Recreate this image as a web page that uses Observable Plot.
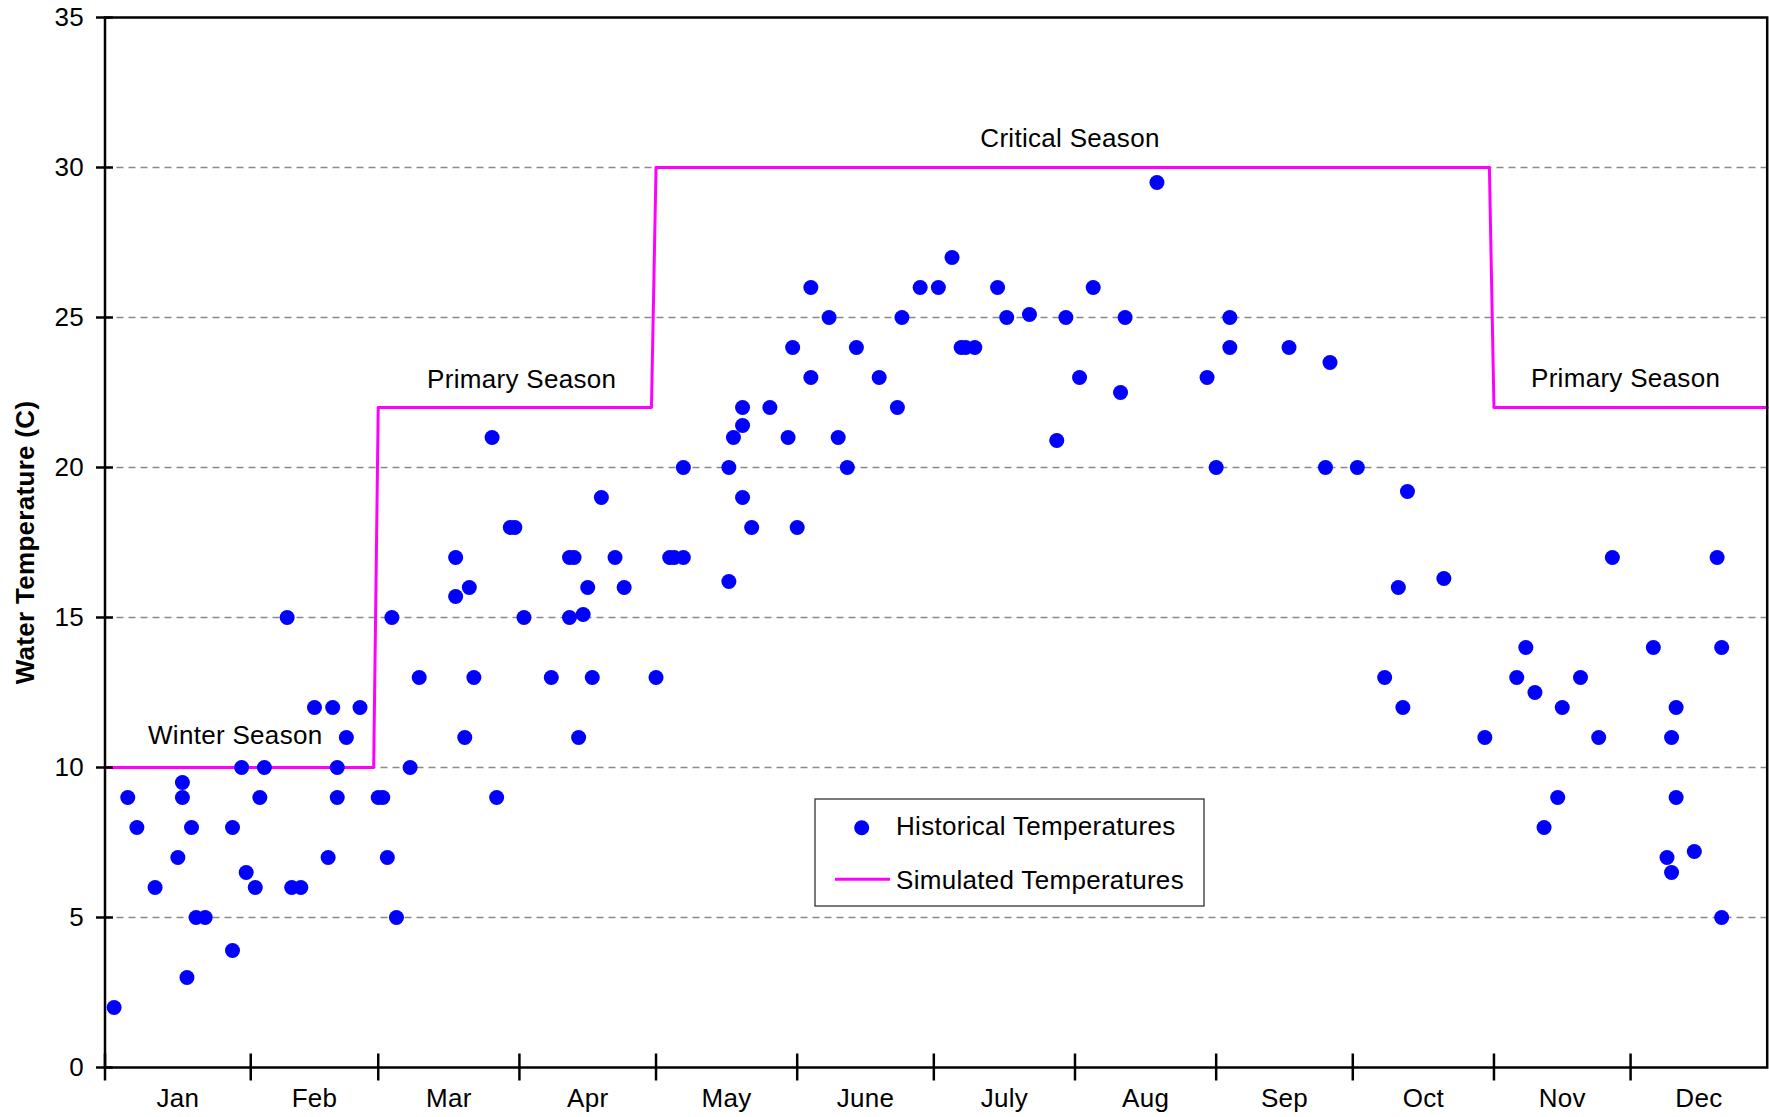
<!DOCTYPE html>
<html>
<head>
<meta charset="utf-8">
<script src="https://cdn.jsdelivr.net/npm/d3@7"></script>
<script src="https://cdn.jsdelivr.net/npm/@observablehq/plot@0.6"></script>
<style>
  html, body { margin: 0; padding: 0; background: #fff; }
  #wrap { position: relative; width: 1769px; height: 1117px; font-family: "Liberation Sans", Arial, sans-serif; }
  #legend { position: absolute; left: 814px; top: 798px; letter-spacing: 0.3px; }
</style>
</head>
<body>
<div id="wrap"></div>
<script>
// ---- Data (day of year, water temperature in C) ----
const histDays = [2,5,7,11,16,17,17,18,19,20,22,28,28,30,31,33,34,35,40,41,43,46,49,50,51,51,53,56,
  60,61,62,63,64,67,69,77,77,79,80,81,85,86,89,90,92,98,102,103,102,104,105,106,107,109,112,114,
  121,124,125,127,127,137,137,138,140,140,140,142,146,150,151,152,155,155,159,161,163,165,170,174,175,
  179,183,186,188,189,191,196,198,203,209,211,214,217,223,224,231,242,244,247,247,260,268,269,275,
  281,284,285,286,294,303,310,312,314,316,319,320,324,328,331,340,343,344,344,345,345,349,354,355,355];
const histTemps = [2,9,8,6,7,9.5,9,3,8,5,5,8,3.9,10,6.5,6,9,10,15,6,6,12,7,12,10,9,11,12,
  9,9,7,15,5,10,13,17,15.7,11,16,13,21,9,18,18,15,13,17,17,15,11,15.1,16,13,19,17,16,
  13,17,17,17,20,20,16.2,21,21.4,22,19,18,22,21,24,18,26,23,25,21,20,24,23,22,25,
  26,26,27,24,24,24,26,25,25.1,20.9,25,23,26,22.5,25,29.5,23,20,25,24,24,20,23.5,20,
  13,16,12,19.2,16.3,11,13,14,12.5,8,9,12,13,11,17,14,7,6.5,11,9,12,7.2,17,14,5];

const simDays  = [0, 59, 60, 120, 121, 304, 305, 365];
const simTemps = [10, 10, 22, 22, 30, 30, 22, 22];

const seasonNames = ["Winter Season", "Primary Season", "Critical Season", "Primary Season"];
const seasonDays  = [28.6, 91.5, 211.9, 333.9];
const seasonTemps = [10.77, 22.65, 30.7, 22.68];

const monthNames  = ["Jan","Feb","Mar","Apr","May","June","July","Aug","Sep","Oct","Nov","Dec"];
const monthStarts = [0, 32, 60, 91, 121, 152, 182, 213, 244, 274, 305, 335];
const yearEnd = 365;
const yTicks = [0, 5, 10, 15, 20, 25, 30, 35];
const yGrid  = [5, 10, 15, 20, 25, 30];

const yTitle = "Water Temperature (C)";
const legendLabels = ["Historical Temperatures", "Simulated Temperatures"];

// ---- Derived tables ----
const historical = histDays.map((d, i) => ({day: d, temp: histTemps[i]}));
const simulated  = simDays.map((d, i) => ({day: d, temp: simTemps[i]}));
const seasons    = seasonNames.map((n, i) => ({name: n, day: seasonDays[i], temp: seasonTemps[i]}));
const monthMids  = monthStarts.map((s, i) => (s + (i < 11 ? monthStarts[i + 1] : yearEnd)) / 2);
const nameByMid  = new Map(monthMids.map((m, i) => [m, monthNames[i]]));

const FONT = "'Liberation Sans', Arial, sans-serif";

const chart = Plot.plot({
  width: 1769,
  height: 1117,
  marginLeft: 104.5,
  marginRight: 2.3,
  marginTop: 17,
  marginBottom: 50,
  style: {fontFamily: FONT, fontSize: "26px", background: "white", color: "black", overflow: "visible", letterSpacing: "0.3px"},
  x: {domain: [0, yearEnd]},
  y: {domain: [0, 35]},
  marks: [
    Plot.gridY(yGrid, {stroke: "#8a8a8a", strokeOpacity: 1, strokeWidth: 1.3, strokeDasharray: "7,5"}),
    Plot.line(simulated, {x: "day", y: "temp", stroke: "#FF00FF", strokeWidth: 3}),
    Plot.dot(historical, {x: "day", y: "temp", r: 7.5, fill: "#0000FF", stroke: "none"}),
    Plot.text(seasons, {x: "day", y: "temp", text: "name", lineAnchor: "bottom", textAnchor: "middle", fontSize: 26, fill: "black"}),
    Plot.frame({stroke: "black", strokeWidth: 2.5}),
    Plot.axisY(yTicks, {tickSize: 17, dx: 8.5, fill: "none", stroke: "black", strokeWidth: 2.5, label: null}),
    Plot.axisY(yTicks, {tickSize: 0, tickPadding: 21, fill: "black", label: null, fontSize: 26}),
    Plot.axisX(monthStarts, {tickSize: 27, dy: -13.5, fill: "none", stroke: "black", strokeWidth: 2.5, label: null}),
    Plot.axisX(monthMids, {tickSize: 0, tickPadding: 21.5, fill: "black", label: null, fontSize: 26,
      tickFormat: d => nameByMid.get(d)}),
    Plot.text([yTitle], {frameAnchor: "left", rotate: -90, dx: -79, textAnchor: "middle", lineAnchor: "middle",
      fontSize: 26, fontWeight: "bold", fill: "black"})
  ]
});

const wrap = document.getElementById("wrap");
wrap.appendChild(chart);

// ---- Legend (overlay box) ----
const ns = "http://www.w3.org/2000/svg";
const lg = document.createElementNS(ns, "svg");
lg.setAttribute("id", "legend");
lg.setAttribute("width", 392);
lg.setAttribute("height", 110);
lg.innerHTML = `
  <rect x="1" y="1" width="389" height="107" fill="white" stroke="#333" stroke-width="1.3"/>
  <circle cx="47.7" cy="29.7" r="7.5" fill="#0000FF"/>
  <text x="82" y="37.3" font-family="${FONT.replace(/'/g, "")}" font-size="26" fill="black">${legendLabels[0]}</text>
  <line x1="21" x2="76" y1="81.3" y2="81.3" stroke="#FF00FF" stroke-width="3"/>
  <text x="82" y="91" font-family="${FONT.replace(/'/g, "")}" font-size="26" fill="black">${legendLabels[1]}</text>
`;
wrap.appendChild(lg);
</script>
</body>
</html>
